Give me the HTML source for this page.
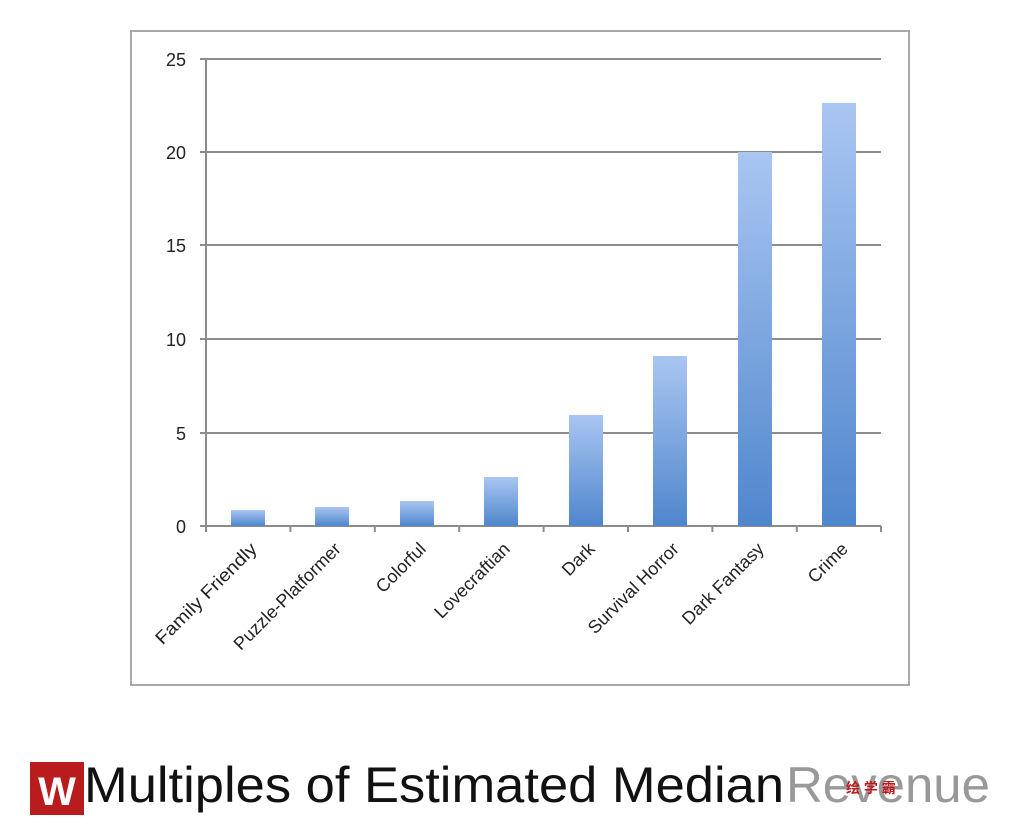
<!DOCTYPE html>
<html><head><meta charset="utf-8"><style>
html,body{margin:0;padding:0;background:#fff;}
svg{display:block}
</style></head><body>
<svg width="1024" height="836" viewBox="0 0 1024 836" xmlns="http://www.w3.org/2000/svg">
<defs>
<linearGradient id="g" x1="0" y1="0" x2="0" y2="1">
<stop offset="0" stop-color="#a9c6f2"/>
<stop offset="1" stop-color="#4f86cc"/>
</linearGradient>
</defs>
<rect x="0" y="0" width="1024" height="836" fill="#fff"/>
<rect x="131" y="31" width="778" height="654" fill="#fff" stroke="#a8a8a8" stroke-width="2"/>
<g stroke="#8c8c8c" stroke-width="2">
<line x1="200" y1="59" x2="881" y2="59"/>
<line x1="200" y1="152" x2="881" y2="152"/>
<line x1="200" y1="245" x2="881" y2="245"/>
<line x1="200" y1="339" x2="881" y2="339"/>
<line x1="200" y1="433" x2="881" y2="433"/>
<line x1="200" y1="526" x2="881" y2="526"/>
<line x1="206" y1="59" x2="206" y2="532"/>
<line x1="290.4" y1="526" x2="290.4" y2="532"/>
<line x1="374.8" y1="526" x2="374.8" y2="532"/>
<line x1="459.2" y1="526" x2="459.2" y2="532"/>
<line x1="543.6" y1="526" x2="543.6" y2="532"/>
<line x1="628" y1="526" x2="628" y2="532"/>
<line x1="712.4" y1="526" x2="712.4" y2="532"/>
<line x1="796.8" y1="526" x2="796.8" y2="532"/>
<line x1="881" y1="526" x2="881" y2="532"/>
</g>
<g font-family="Liberation Sans, sans-serif" font-size="18" fill="#222" text-anchor="end">
<text x="186" y="66">25</text>
<text x="186" y="159">20</text>
<text x="186" y="252">15</text>
<text x="186" y="346">10</text>
<text x="186" y="440">5</text>
<text x="186" y="533">0</text>
</g>
<g fill="url(#g)">
<rect x="231" y="510" width="34" height="16"/>
<rect x="315" y="507" width="34" height="19"/>
<rect x="400" y="501" width="34" height="25"/>
<rect x="484" y="477" width="34" height="49"/>
<rect x="569" y="415" width="34" height="111"/>
<rect x="653" y="356" width="34" height="170"/>
<rect x="738" y="152" width="34" height="374"/>
<rect x="822" y="103" width="34" height="423"/>
</g>
<g font-family="Liberation Sans, sans-serif" font-size="18" fill="#222" text-anchor="end">
<text transform="translate(258,550) rotate(-45)" textLength="135" lengthAdjust="spacingAndGlyphs">Family Friendly</text>
<text transform="translate(342,550) rotate(-45)">Puzzle-Platformer</text>
<text transform="translate(427,550) rotate(-45)">Colorful</text>
<text transform="translate(511,550) rotate(-45)">Lovecraftian</text>
<text transform="translate(596,550) rotate(-45)">Dark</text>
<text transform="translate(680,550) rotate(-45)">Survival Horror</text>
<text transform="translate(765,550) rotate(-45)">Dark Fantasy</text>
<text transform="translate(849,550) rotate(-45)">Crime</text>
</g>
<text x="84" y="802" font-family="Liberation Sans, sans-serif" font-size="50" fill="#111" textLength="700" lengthAdjust="spacingAndGlyphs">Multiples of Estimated Median</text>
<text x="786" y="802" font-family="Liberation Sans, sans-serif" font-size="50" fill="#999" textLength="204" lengthAdjust="spacingAndGlyphs">Revenue</text>
<rect x="30" y="762" width="54" height="53" fill="#b81c1c"/>
<text x="57" y="805" font-family="Liberation Sans, sans-serif" font-size="40" font-weight="bold" fill="#fff" text-anchor="middle">W</text>
<text x="846" y="793" font-family="Liberation Sans, Noto Sans CJK SC, sans-serif" font-size="14" font-weight="bold" fill="#c01818">绘 学 霸</text>
</svg>
</body></html>
